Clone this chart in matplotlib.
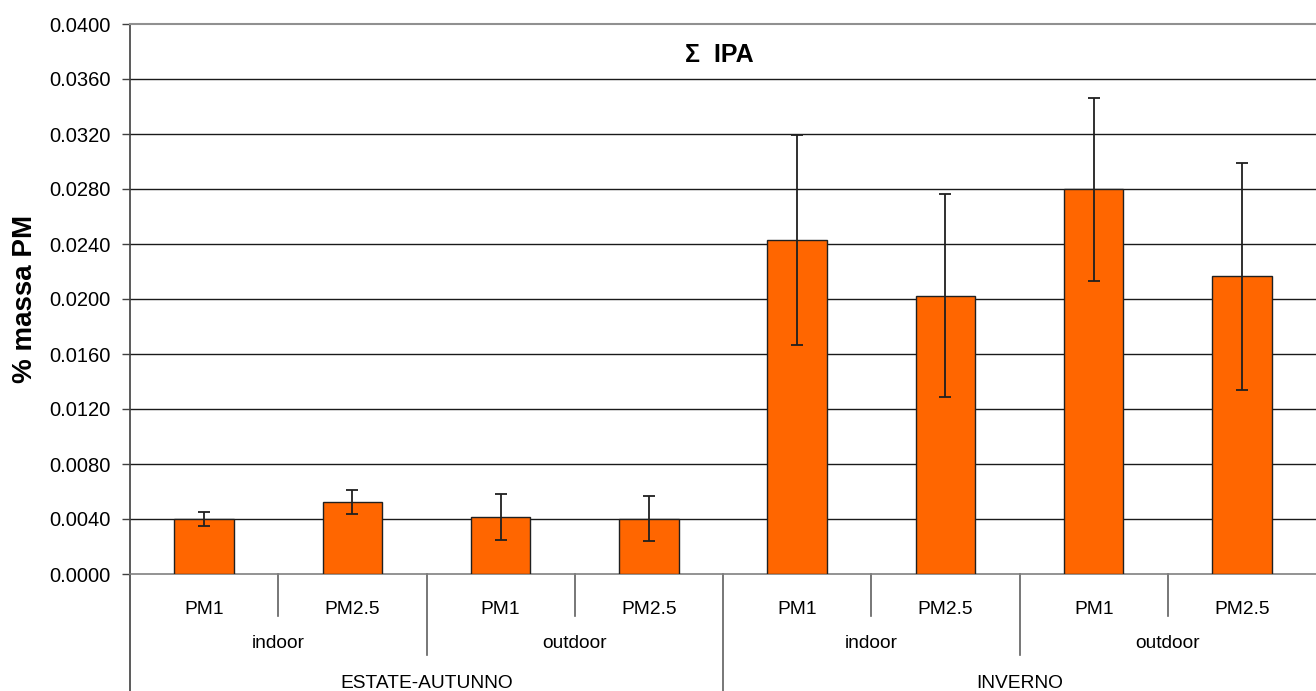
import matplotlib
matplotlib.use("Agg")
import matplotlib.pyplot as plt
from matplotlib.transforms import blended_transform_factory
import numpy as np

plt.rcParams['font.family'] = ['Liberation Sans', 'DejaVu Sans']

seasons = ["ESTATE-AUTUNNO", "INVERNO"]
sites = ["indoor", "outdoor"]
fractions = ["PM1", "PM2.5"]
values = [0.0040, 0.00526, 0.00412, 0.00402, 0.02432, 0.02023, 0.02798, 0.02166]
errors = [0.00049, 0.00086, 0.00168, 0.00162, 0.00763, 0.00739, 0.00665, 0.00826]
yticks = [0.004 * i for i in range(11)]

W, H = 1316, 691
fig = plt.figure(figsize=(W / 100, H / 100), dpi=100)
ax = fig.add_axes([130 / W, (H - 574) / H, 1186 / W, 550 / H])

n = len(values)
x = np.arange(n)
ax.bar(x, values, width=0.4, color="#FF6600", edgecolor="#202020", linewidth=1.0, zorder=3)
ax.errorbar(x, values, yerr=errors, fmt="none", ecolor="#202020", elinewidth=1.3,
            capsize=4, capthick=1.3, zorder=4)

ax.set_xlim(-0.5, n - 0.5)
ax.set_ylim(0, 0.04)
ax.set_yticks(yticks)
ax.set_yticklabels([f"{v:.4f}" for v in yticks], fontsize=14.5)
ax.tick_params(axis="y", direction="out", length=6, width=1, color="#404040", pad=8)
ax.set_xticks([])
for yv in yticks[1:-1]:
    ax.axhline(yv, color="#1a1a1a", linewidth=1.0, zorder=1)

ax.spines["top"].set_color("#909090")
ax.spines["top"].set_linewidth(1.5)
ax.spines["bottom"].set_color("#808080")
ax.spines["bottom"].set_linewidth(1.2)
ax.spines["right"].set_visible(False)
ax.spines["left"].set_color("#404040")
ax.spines["left"].set_linewidth(1.2)

ax.text((25 - 130) / 1186, 0.5, "% massa PM", transform=ax.transAxes, rotation=90,
        ha="center", va="center", fontsize=20, fontweight="bold")
ax.text((719.5 - 130) / 1186, (574 - 55) / 550, "Σ  IPA", transform=ax.transAxes,
        ha="center", va="center", fontsize=18, fontweight="bold")

tr = blended_transform_factory(ax.transData, ax.transAxes)
y_short = (574 - 616) / 550
y_mid = (574 - 655) / 550
y_long = (574 - 700) / 550
row1 = (574 - 610) / 550
row2 = (574 - 643) / 550
row3 = (574 - 684) / 550
fs = 13.8

# fraction labels
for i in range(n):
    ax.text(i, row1, fractions[i % 2], transform=tr, ha="center", va="center", fontsize=fs)
# site labels
for j in range(n // 2):
    ax.text(2 * j + 0.5, row2, sites[j % 2], transform=tr, ha="center", va="center", fontsize=fs)
# season labels
for k in range(n // 4):
    ax.text(4 * k + 1.5, row3, seasons[k], transform=tr, ha="center", va="center", fontsize=fs)

# dividers
for i in range(1, n):
    b = i - 0.5
    if i % 4 == 0:
        y2 = y_long
    elif i % 2 == 0:
        y2 = y_mid
    else:
        y2 = y_short
    ax.plot([b, b], [0, y2], transform=tr, color="#606060", linewidth=1.2, clip_on=False)
ax.plot([-0.5, -0.5], [0, y_long], transform=tr, color="#404040", linewidth=1.2, clip_on=False)

fig.savefig("out.png", dpi=100)
